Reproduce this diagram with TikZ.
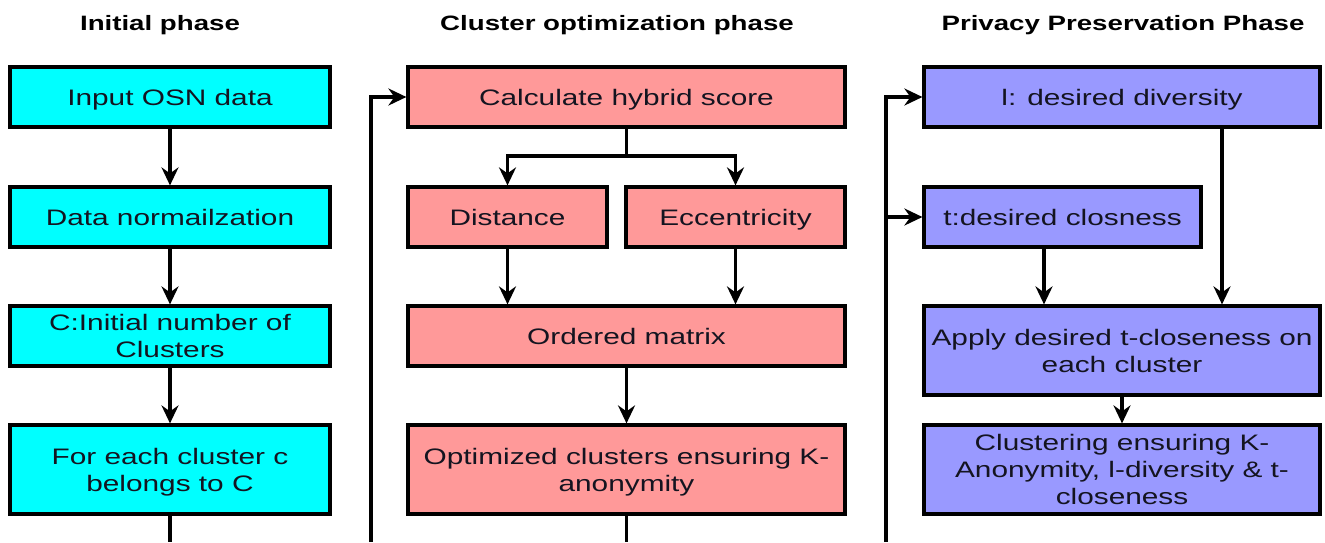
\documentclass[tikz,border=0pt]{standalone}
\usepackage{fontspec}
\usetikzlibrary{arrows.meta,calc}
\newfontfamily\boxfont[FakeStretch=1.33]{Liberation Sans}
\newfontfamily\headfont[FakeStretch=1.33]{Liberation Sans}
\definecolor{initfill}{HTML}{00FFFF}
\definecolor{optfill}{HTML}{FF9999}
\definecolor{privfill}{HTML}{9999FF}
\definecolor{inktext}{HTML}{141420}
\tikzset{
  box/.style={draw=black, line width=1.6pt, rectangle, align=center,
    inner sep=0pt, text=inktext, text depth=0pt,
    font=\boxfont\fontsize{11.2}{13.6}\selectfont},
  initbox/.style={box, fill=initfill, minimum width=160pt},
  optbox/.style={box, fill=optfill},
  privbox/.style={box, fill=privfill},
  heading/.style={anchor=base, text=black,
    font=\headfont\bfseries\fontsize{10.4}{12}\selectfont},
  link/.style={line width=1.6pt, draw=black},
  arr/.style={link, -{Stealth[length=9pt,width=8.5pt,inset=3pt]}},
}
\begin{document}
\begin{tikzpicture}[x=0.5pt,y=-0.5pt]
\useasboundingbox (0,0) rectangle (1325,542);

% phase headings
\node[heading] (h1) at (160,30) {Initial phase};
\node[heading] (h2) at (617,30) {Cluster optimization phase};
\node[heading] (h3) at (1123,30) {Privacy Preservation Phase};

% initial phase
\node[initbox, minimum height=30pt]   (in)   at (170,97)    {Input OSN data};
\node[initbox, minimum height=30pt]   (norm) at (170,217)   {Data normailzation};
\node[initbox, minimum height=30pt]   (cnum) at (170,336)   {C:Initial number of\\Clusters};
\node[initbox, minimum height=44.5pt] (each) at (170,469.5) {For each cluster c\\belongs to C};

% cluster optimization phase
\node[optbox, minimum width=218.5pt, minimum height=30pt]   (calc) at (626.5,97)    {Calculate hybrid score};
\node[optbox, minimum width=99.5pt,  minimum height=30pt]   (dist) at (507.5,217)   {Distance};
\node[optbox, minimum width=109.5pt, minimum height=30pt]   (ecc)  at (735.5,217)   {Eccentricity};
\node[optbox, minimum width=218.5pt, minimum height=30pt]   (ord)  at (626.5,336)   {Ordered matrix};
\node[optbox, minimum width=218.5pt, minimum height=44.5pt] (opt)  at (626.5,469.5) {Optimized clusters ensuring K-\\anonymity};

% privacy preservation phase
\node[privbox, minimum width=198pt,   minimum height=30pt]   (ldiv)  at (1122,97)    {l: desired diversity};
\node[privbox, minimum width=138.5pt, minimum height=30pt]   (tclo)  at (1062.5,217) {t:desired closness};
\node[privbox, minimum width=198pt,   minimum height=44.5pt] (apply) at (1122,350.5) {Apply desired t-closeness on\\each cluster};
\node[privbox, minimum width=198pt,   minimum height=44.5pt] (clus)  at (1122,469.5) {Clustering ensuring K-\\Anonymity, l-diversity \& t-\\closeness};

% initial phase flow
\draw[arr] (in) -- (norm);
\draw[arr] (norm) -- (cnum);
\draw[arr] (cnum) -- (each);
\coordinate (b1) at (170,542);
\draw[link] (each.south) -- (b1);

% hybrid score split
\coordinate (split) at (626.5,156);
\draw[link] (calc.south) -- (split);
\draw[arr] (split) -| (dist.north);
\draw[arr] (split) -| (ecc.north);
\draw[arr] (dist.south) -- (dist.south |- ord.north);
\draw[arr] (ecc.south) -- (ecc.south |- ord.north);
\draw[arr] (ord) -- (opt);
\coordinate (b2) at (626.5,542);
\draw[link] (opt.south) -- (b2);

% feedback into the optimization phase
\coordinate (f1) at (371,542);
\draw[arr] (f1) |- (calc.west);

% feedback into the privacy phase
\coordinate (f2) at (886,542);
\draw[arr] (f2) |- (ldiv.west);
\draw[arr] (f2 |- tclo.west) -- (tclo.west);

% privacy phase flow
\draw[arr] ($(ldiv.south)+(100,0)$) -- ($(apply.north)+(100,0)$);
\draw[arr] ($(tclo.south)+(-18.5,0)$) -- ($(apply.north)+(-78,0)$);
\draw[arr] (apply) -- (clus);
\end{tikzpicture}
\end{document}
